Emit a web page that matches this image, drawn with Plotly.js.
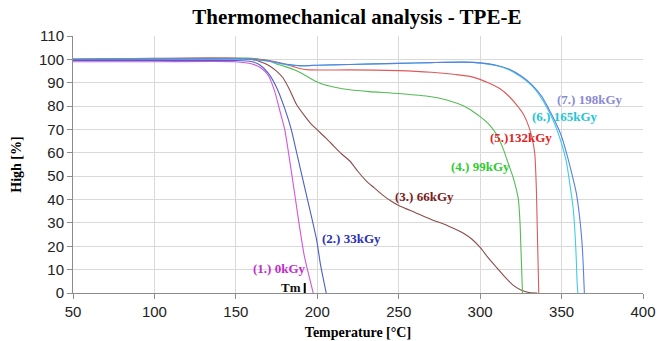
<!DOCTYPE html>
<html>
<head>
<meta charset="utf-8">
<script src="https://cdn.plot.ly/plotly-3.0.1.min.js"></script>
<style>html,body{margin:0;padding:0;background:#fff;}#chart{width:667px;height:341px;}</style>
</head>
<body>
<div id="chart"></div>
<script>
// Series 1: 0 kGy
const t1 = [50,100,150,160,165,170,174,177,180,183,186,189.4,192,195,197.5];
const h1 = [99,99,99,98,96.5,93,86,78,70,57,43,27,16,7,0];
// Series 2: 33 kGy
const t2 = [50,100,150,160,165,170,175,180,184,188,192,196,199.6,202,204,205.5];
const h2 = [99.5,99.5,99.5,99,97.5,94,88,79,70,58,46,34,22.7,12,5,0];
// Series 3: 66 kGy
const t3 = [50,100,150,160,165,170,175,179,183,187,192,196,200,205,210,215,220,225,230,235,240,245,250,260,270,280,290,295,300,305,310,315,320,325,330,335];
const h3 = [100,100.5,100.5,100,99,97.5,95,92,87,81,76,72.5,69.8,66.5,63,59.5,56.5,52,48,45,42,39.5,37.5,34.5,31.5,28.8,25.5,23,19.5,15,11,7,3.5,1.3,0.2,0];
// Series 4: 99 kGy
const t4 = [50,150,160,165,170,175,180,187,193,198,205,210,220,232,250,270,280,290,296,300,305,310,314,317,320,322,323.5,324.5,325,325.5,326];
const h4 = [100,100.5,100.5,100,99.5,98,97,95.2,93,91,89,88.2,87,86.2,85.4,84,82.5,80,77.5,75.5,72.5,68,62,56,50,45,40,30,20,10,0];
// Series 5: 132 kGy
const t5 = [50,150,160,170,180,185,190,195,220,250,270,285,295,305,312,318,323,327,330,332,333.5,334.5,335,335.5,336];
const h5 = [100,100.5,100.2,99.5,98,97,96,95.5,95.5,95.2,94.5,93.5,92.5,90,87.5,84,80,76,71,66,60,45,30,15,0];
// Series 6: 165 kGy
const t6 = [50,150,160,170,180,190,200,220,250,270,290,300,310,318,325,332,338,342,346,350,353,355,357,358.3,359,359.5,360];
const h6 = [100,100.2,100,99.2,97.8,97.2,97.5,97.8,98.3,98.6,98.8,98.4,97.3,95.5,92.5,88.5,83,78,72,64,56,47,37,25,15,5,0];
// Series 7: 198 kGy
const t7 = [50,150,160,170,180,190,200,220,250,270,290,300,310,318,325,332,338,342,346,350,353,356,359,361,362.5,363.3,363.7,364];
const h7 = [100,100.2,100,99.3,98,97.3,97.5,97.8,98.3,98.6,98.8,98.5,97.5,95.8,93,89,84,79,73.5,67,60,52,43,33,22,12,5,0];

// Labels
const labelText = ["(1.) 0kGy","(2.) 33kGy","(3.) 66kGy","(4.) 99kGy","(5.)132kGy","(6.) 165kGy","(7.) 198kGy"];
const labelX = [177,220.7,266,300.5,325,351.8,367.4];
const labelY = [10.3,23.5,41.1,54,66.7,75.5,82.9];
const lineColors = ["#d455d8","#4a60c4","#8c4c4c","#55bb55","#dc5a5a","#40cde0","#5a7fe0"];
const labelColors = ["#c22ec8","#2b2fb4","#7a1c1c","#2fcc2f","#e02424","#22c4d4","#8a8ad2"];

// Tm marker
const tmX = [192.3,192.3];
const tmY = [0,4.3];

const xs = [t1,t2,t3,t4,t5,t6,t7];
const ys = [h1,h2,h3,h4,h5,h6,h7];

const traces = xs.map((x,i)=>({
  x:x, y:ys[i], type:'scatter', mode:'lines',
  line:{color:lineColors[i], width:1.1, shape:'spline', smoothing:0.6},
  hoverinfo:'skip', showlegend:false
}));
traces.push({x:tmX, y:tmY, type:'scatter', mode:'lines', line:{color:'#000', width:2}, showlegend:false, hoverinfo:'skip'});

const annotations = labelText.map((t,i)=>({
  x:labelX[i], y:labelY[i], xref:'x', yref:'y', text:t, showarrow:false,
  font:{family:'Liberation Serif, Times New Roman, serif', size:13, color:labelColors[i], weight:'bold'},
  xanchor:'center', yanchor:'middle'
}));
annotations.push({x:183.9, y:2.5, xref:'x', yref:'y', text:'Tm', showarrow:false,
  font:{family:'Liberation Serif, Times New Roman, serif', size:13, color:'#111', weight:'bold'},
  xanchor:'center', yanchor:'middle'});

const layout = {
  width:667, height:341,
  margin:{l:73, r:24, t:36, b:48},
  paper_bgcolor:'#fff', plot_bgcolor:'#fff',
  title:{text:'Thermomechanical analysis - TPE-E', x:0.535, xanchor:'center', y:0.95, yanchor:'middle',
    font:{family:'Liberation Serif, Times New Roman, serif', size:21, color:'#000', weight:'bold'}},
  xaxis:{range:[50,400], tickvals:[50,100,150,200,250,300,350,400], showgrid:true, gridcolor:'#d9d9d9', gridwidth:1,
    showline:true, linecolor:'#8c8c8c', ticks:'outside', ticklen:5, tickcolor:'#8c8c8c', zeroline:false,
    tickfont:{family:'Liberation Sans, Arial, sans-serif', size:15, color:'#222'},
    title:{text:'Temperature [°C]', standoff:8, font:{family:'Liberation Serif, Times New Roman, serif', size:14, color:'#000', weight:'bold'}}},
  yaxis:{range:[0,110], tickvals:[0,10,20,30,40,50,60,70,80,90,100,110], showgrid:true, gridcolor:'#d9d9d9', gridwidth:1,
    showline:true, linecolor:'#8c8c8c', ticks:'outside', ticklen:5, tickcolor:'#8c8c8c', zeroline:false,
    tickfont:{family:'Liberation Sans, Arial, sans-serif', size:15, color:'#222'},
    title:{text:'High [%]', standoff:14, font:{family:'Liberation Serif, Times New Roman, serif', size:14, color:'#000', weight:'bold'}}},
  annotations:annotations
};

Plotly.newPlot('chart', traces, layout, {displayModeBar:false, staticPlot:true});
</script>
</body>
</html>
